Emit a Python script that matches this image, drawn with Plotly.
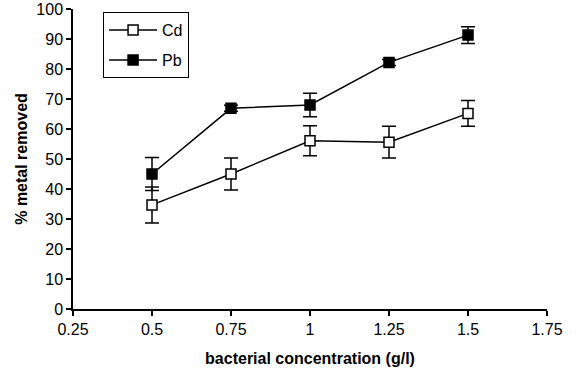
import plotly.graph_objects as go

conc = [0.5, 0.75, 1.0, 1.25, 1.5]
cd_vals = [34.7, 45.0, 56.1, 55.6, 65.2]
cd_err = [6.0, 5.3, 5.0, 5.3, 4.3]
pb_vals = [45.0, 66.9, 68.0, 82.2, 91.3]
pb_err = [5.5, 1.0, 3.9, 1.0, 2.8]

x_ticks = [0.25, 0.5, 0.75, 1, 1.25, 1.5, 1.75]
x_tick_labels = ["0.25", "0.5", "0.75", "1", "1.25", "1.5", "1.75"]
y_ticks = list(range(0, 101, 10))

fig = go.Figure()
fig.add_trace(go.Scatter(
    x=conc, y=cd_vals, name="Cd", mode="lines+markers", legendgroup="cd",
    line=dict(color="black", width=1.5),
    marker=dict(symbol="square", size=10, color="white", line=dict(color="black", width=1.5)),
    error_y=dict(type="data", array=cd_err, color="black", thickness=1.5, width=7),
))
fig.add_trace(go.Scatter(
    x=conc, y=pb_vals, name="Pb", mode="lines+markers", legendgroup="pb",
    line=dict(color="black", width=1.5),
    marker=dict(symbol="square", size=10, color="black", line=dict(color="black", width=1.5)),
    error_y=dict(type="data", array=pb_err, color="black", thickness=1.5, width=7),
))

font_family = "Liberation Sans, Arial, sans-serif"
fig.update_layout(
    width=580, height=374,
    margin=dict(l=73, r=33, t=9, b=65),
    paper_bgcolor="white", plot_bgcolor="white",
    font=dict(family=font_family, size=16, color="black"),
    showlegend=True,
    legend=dict(
        x=0.063, y=0.99, xanchor="left", yanchor="top",
        bordercolor="black", borderwidth=1.2, bgcolor="white",
        font=dict(size=16), itemwidth=48, tracegroupgap=6,
    ),
    xaxis=dict(
        range=[0.25, 1.75], tickvals=x_ticks, ticktext=x_tick_labels,
        showline=True, linecolor="black", linewidth=1.5,
        ticks="outside", ticklen=5, tickwidth=1.5, tickcolor="black",
        showgrid=False, zeroline=False, automargin=False,
        title=dict(text="<b>bacterial concentration (g/l)</b>", font=dict(size=16), standoff=16),
        tickfont=dict(size=16),
    ),
    yaxis=dict(
        range=[0, 100], tickvals=y_ticks,
        showline=True, linecolor="black", linewidth=1.5,
        ticks="outside", ticklen=5, tickwidth=1.5, tickcolor="black",
        showgrid=False, zeroline=False, automargin=False,
        title=dict(text="<b>% metal removed</b>", font=dict(size=16), standoff=5),
        tickfont=dict(size=16),
    ),
)

fig.write_html("out.html", config={"displayModeBar": False},
               post_script="document.body.style.margin='0px';")
